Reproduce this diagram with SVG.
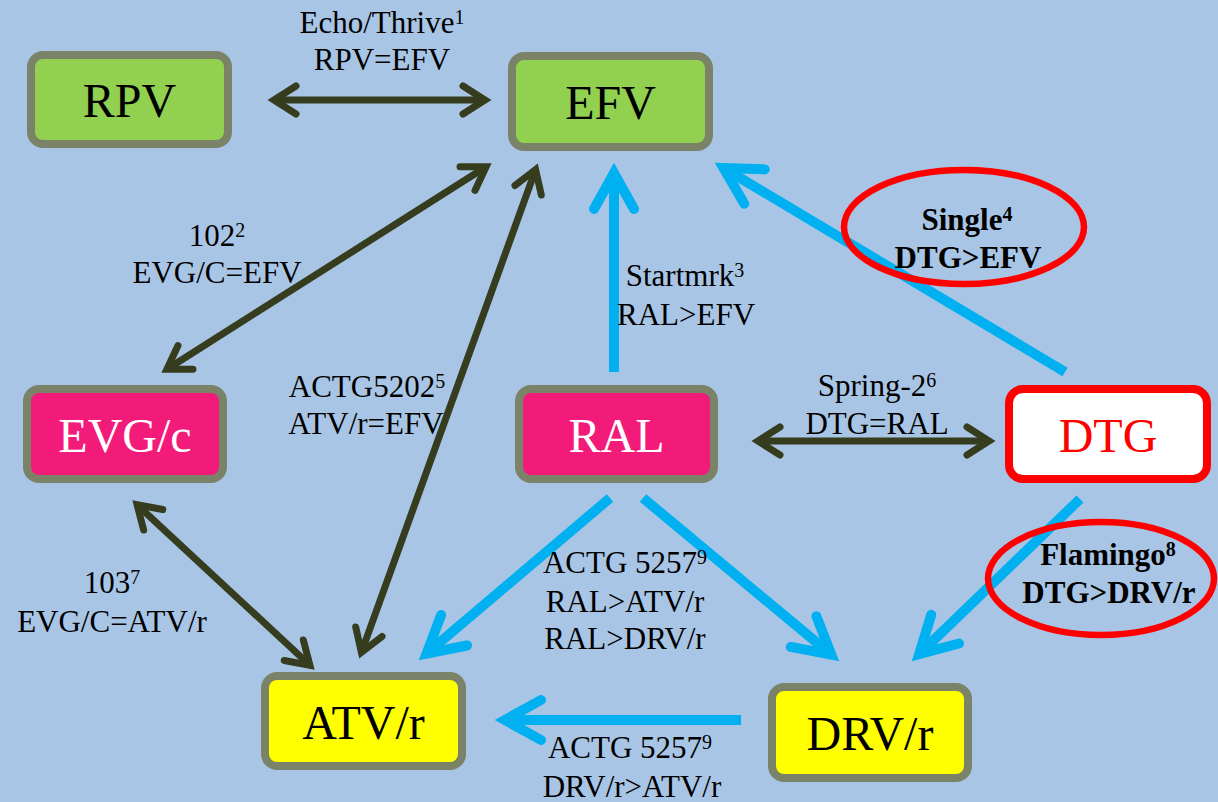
<svg xmlns="http://www.w3.org/2000/svg" width="1218" height="802" viewBox="0 0 1218 802">
<style>
.bg{fill:#a9c5e5}
.node rect{stroke:#7a8367;stroke-width:8}
.green{fill:#92d050}
.pink{fill:#f21b7a}
.yellow{fill:#ffff00}
.nt{font-family:"Liberation Serif","Times New Roman",serif;font-size:48px;text-anchor:middle}
.lbl{font-family:"Liberation Serif","Times New Roman",serif;font-size:31px;text-anchor:middle;fill:#000}
.b{font-weight:bold}
.sup{font-size:20px}
.dark{stroke:#363c1e;stroke-width:7;fill:none}
.blue{stroke:#00b0f0;stroke-width:10;fill:none}
.oval{fill:none;stroke:#ff0000;stroke-width:6.5}
</style>
<defs>
<marker id="dk" markerUnits="userSpaceOnUse" orient="auto-start-reverse" refX="0" refY="0" markerWidth="10" markerHeight="10" overflow="visible">
<path d="M -22,-14 L 0,0 L -22,14" fill="none" stroke="#363c1e" stroke-width="7" stroke-linecap="round" stroke-linejoin="miter" stroke-miterlimit="10"/>
</marker>
<marker id="bl" markerUnits="userSpaceOnUse" orient="auto" refX="0" refY="0" markerWidth="10" markerHeight="10" overflow="visible">
<path d="M -36,-20 L 0,0 L -36,20" fill="none" stroke="#00b0f0" stroke-width="10" stroke-linecap="round" stroke-linejoin="miter" stroke-miterlimit="10"/>
</marker>
</defs>
<rect class="bg" x="0" y="0" width="1218" height="802"/>

<g id="connectors">
<path class="dark" d="M274,100 L485,100" marker-start="url(#dk)" marker-end="url(#dk)"/>
<path class="dark" d="M486.1,166.8 L166.9,369.2" marker-start="url(#dk)" marker-end="url(#dk)"/>
<path class="dark" d="M535.6,169.6 L361.4,652.4" marker-start="url(#dk)" marker-end="url(#dk)"/>
<path class="dark" d="M137.1,504.8 L309.9,665.2" marker-start="url(#dk)" marker-end="url(#dk)"/>
<path class="dark" d="M758,441 L989,441" marker-start="url(#dk)" marker-end="url(#dk)"/>
<path class="blue" d="M614,372 L614,173" marker-end="url(#bl)"/>
<path class="blue" d="M1065,372 L723.6,168.1" marker-end="url(#bl)"/>
<path class="blue" d="M610,498 L426.6,653.5" marker-end="url(#bl)"/>
<path class="blue" d="M643,498 L831.3,654.6" marker-end="url(#bl)"/>
<path class="blue" d="M1080,499 L919.2,654.1" marker-end="url(#bl)"/>
<path class="blue" d="M741,720 L505,720" marker-end="url(#bl)"/>
</g>

<g id="node-rpv" class="node">
<rect class="green" x="31" y="55" width="197" height="89" rx="12"/>
<text class="nt" x="129.5" y="117" fill="#000">RPV</text>
</g>
<g id="node-efv" class="node">
<rect class="green" x="512" y="56" width="197" height="91" rx="12"/>
<text class="nt" x="610.5" y="119" fill="#000">EFV</text>
</g>
<g id="node-evgc" class="node">
<rect class="pink" x="27" y="389" width="196" height="90" rx="12"/>
<text class="nt" x="125" y="451.5" fill="#fff">EVG/c</text>
</g>
<g id="node-ral" class="node">
<rect class="pink" x="519" y="389" width="195" height="90" rx="12"/>
<text class="nt" x="616.5" y="451.5" fill="#fff">RAL</text>
</g>
<g id="node-dtg">
<rect x="1009" y="389" width="198" height="90" rx="14" fill="#fff" stroke="#ff0000" stroke-width="8"/>
<text class="nt" x="1108" y="451.5" fill="#ff0000">DTG</text>
</g>
<g id="node-atvr" class="node">
<rect class="yellow" x="265" y="676" width="197" height="90" rx="12"/>
<text class="nt" x="363.5" y="738.5" fill="#000">ATV/r</text>
</g>
<g id="node-drvr" class="node">
<rect class="yellow" x="772" y="687" width="196" height="91" rx="12"/>
<text class="nt" x="870" y="750" fill="#000">DRV/r</text>
</g>

<g id="highlights">
<ellipse class="oval" cx="964" cy="227" rx="120" ry="57"/>
<ellipse class="oval" cx="1101" cy="578.5" rx="113" ry="56.5"/>
</g>

<g id="labels">
<text class="lbl" x="382" y="33">Echo/Thrive<tspan class="sup" dy="-9">1</tspan></text>
<text class="lbl" x="382" y="70">RPV=EFV</text>
<text class="lbl" x="217" y="246">102<tspan class="sup" dy="-9">2</tspan></text>
<text class="lbl" x="217" y="283">EVG/C=EFV</text>
<text class="lbl" x="685" y="286">Startmrk<tspan class="sup" dy="-9">3</tspan></text>
<text class="lbl" x="686" y="325">RAL&gt;EFV</text>
<text class="lbl b" x="967" y="230">Single<tspan class="sup" dy="-9">4</tspan></text>
<text class="lbl b" x="968" y="268">DTG&gt;EFV</text>
<text class="lbl" x="367" y="397">ACTG5202<tspan class="sup" dy="-9">5</tspan></text>
<text class="lbl" x="366" y="434">ATV/r=EFV</text>
<text class="lbl" x="877" y="396">Spring-2<tspan class="sup" dy="-9">6</tspan></text>
<text class="lbl" x="877" y="434">DTG=RAL</text>
<text class="lbl" x="112" y="593">103<tspan class="sup" dy="-9">7</tspan></text>
<text class="lbl" x="112" y="632">EVG/C=ATV/r</text>
<text class="lbl" x="625" y="573">ACTG 5257<tspan class="sup" dy="-9">9</tspan></text>
<text class="lbl" x="625" y="612">RAL&gt;ATV/r</text>
<text class="lbl" x="625" y="649">RAL&gt;DRV/r</text>
<text class="lbl b" x="1108" y="565">Flamingo<tspan class="sup" dy="-9">8</tspan></text>
<text class="lbl b" x="1109" y="603">DTG&gt;DRV/r</text>
<text class="lbl" x="630" y="758">ACTG 5257<tspan class="sup" dy="-9">9</tspan></text>
<text class="lbl" x="632" y="797">DRV/r&gt;ATV/r</text>
</g>
</svg>
